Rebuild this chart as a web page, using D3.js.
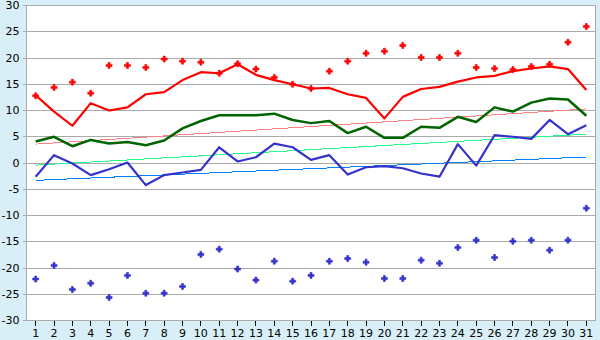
<!DOCTYPE html>
<html>
<head>
<meta charset="utf-8">
<script src="https://cdn.jsdelivr.net/npm/d3@7"></script>
<style>
  html, body { margin: 0; padding: 0; background: #d9eff7; }
  svg { display: block; font-family: "DejaVu Sans", sans-serif; }
</style>
</head>
<body>
<script>
// Data
const days = d3.range(1, 32);
const tMax = [12.8, 9.7, 7.0, 11.3, 9.9, 10.5, 13.0, 13.4, 15.7, 17.2, 17.0, 18.7, 16.7, 15.7, 14.9, 14.1,
              14.2, 13.0, 12.3, 8.4, 12.5, 14.0, 14.4, 15.4, 16.2, 16.5, 17.4, 17.9, 18.3, 17.8, 13.8];
const tMean = [4.0, 4.9, 3.1, 4.3, 3.6, 3.9, 3.3, 4.2, 6.5, 7.9, 9.0, 9.0, 9.0, 9.3, 8.1, 7.5,
               7.9, 5.6, 6.8, 4.7, 4.7, 6.8, 6.6, 8.7, 7.7, 10.5, 9.7, 11.4, 12.2, 12.0, 8.9];
const tMin = [-2.7, 1.4, -0.2, -2.4, -1.3, 0.0, -4.3, -2.4, -1.9, -1.4, 2.9, 0.2, 1.0, 3.6, 2.9, 0.5,
              1.4, -2.3, -0.9, -0.7, -1.1, -2.1, -2.7, 3.5, -0.6, 5.2, 4.9, 4.5, 8.1, 5.4, 7.1];
const recMax = [12.7, 14.3, 15.3, 13.2, 18.5, 18.5, 18.1, 19.7, 19.3, 19.1, 17.0, 18.8, 17.8, 16.2, 14.9, 14.1,
                17.4, 19.3, 20.8, 21.2, 22.3, 20.0, 20.0, 20.8, 18.1, 17.9, 17.7, 18.3, 18.7, 22.9, 25.9];
const recMin = [-22.2, -19.6, -24.2, -23.0, -25.7, -21.5, -24.9, -24.9, -23.6, -17.5, -16.5, -20.3, -22.4, -18.8, -22.6, -21.5,
                -18.8, -18.3, -19.0, -22.1, -22.1, -18.6, -19.2, -16.2, -14.8, -18.1, -15.0, -14.8, -16.7, -14.8, -8.7];
// normal lines: value on day 1 and day 31
const normMax = [3.5, 10.2];
const normMean = [-0.5, 5.4];
const normMin = [-3.4, 1.05];
const yTicks = d3.range(-30, 31, 5);

const w = 600, h = 340;
const padLeft = 26.5, padRight = 595.5, padTop = 5, padBottom = 320;

const svg = d3.select("body").append("svg")
  .attr("width", w)
  .attr("height", h);

const x = d3.scaleBand().domain(days).range([padLeft, padRight]);
const xc = d => x(d) + x.bandwidth() / 2;
const y = d3.scaleLinear().domain([-30, 30]).range([padBottom, padTop]);

// plot background
svg.append("rect")
  .attr("x", padLeft).attr("y", padTop)
  .attr("width", padRight - padLeft).attr("height", padBottom - padTop)
  .attr("fill", "white");

// y axis with grid lines
const yAxis = d3.axisLeft(y).tickValues(yTicks)
  .tickFormat(d => String(d))
  .tickSize(-(padRight - padLeft) - 4)
  .tickPadding(3);
svg.append("g")
  .attr("transform", "translate(" + (padLeft - 4) + ",0)")
  .call(yAxis)
  .call(g => g.select(".domain").remove())
  .call(g => g.selectAll("line").attr("stroke", "#aaaaaa").attr("shape-rendering", "crispEdges")
    .attr("x1", 0).attr("x2", padRight - padLeft + 4))
  .call(g => g.selectAll("text").attr("font-size", 11).attr("fill", "black")
    .attr("font-family", "DejaVu Sans"));

// x axis
const xAxis = d3.axisBottom(x).tickSize(6).tickPadding(3).tickSizeOuter(0);
svg.append("g")
  .attr("transform", "translate(0," + padBottom + ")")
  .call(xAxis)
  .call(g => g.select(".domain").remove())
  .call(g => g.selectAll("line").attr("stroke", "black").attr("shape-rendering", "crispEdges"))
  .call(g => g.selectAll("text").attr("font-size", 11).attr("fill", "black")
    .attr("font-family", "DejaVu Sans"));

// plot border
svg.append("rect")
  .attr("x", padLeft).attr("y", padTop)
  .attr("width", padRight - padLeft).attr("height", padBottom - padTop)
  .attr("fill", "none")
  .attr("stroke", "#aaaaaa")
  .attr("shape-rendering", "crispEdges");

// normal lines
function normLine(vals, color) {
  svg.append("line")
    .attr("x1", xc(days[0])).attr("y1", y(vals[0]))
    .attr("x2", xc(days[days.length - 1])).attr("y2", y(vals[1]))
    .attr("stroke", color)
    .attr("stroke-width", 1)
    .attr("shape-rendering", "crispEdges");
}
normLine(normMax, "#ff8080");
normLine(normMean, "#22ff88");
normLine(normMin, "#0080ff");

// series lines
const line = d3.line().x((d, i) => xc(days[i])).y(d => y(d));
function drawLine(vals, color, width) {
  svg.append("path")
    .datum(vals)
    .attr("d", line)
    .attr("fill", "none")
    .attr("stroke", color)
    .attr("stroke-width", width)
    .attr("stroke-linejoin", "round");
}
drawLine(tMax, "#ff0000", 2.2);
drawLine(tMean, "#006400", 2.5);
drawLine(tMin, "#3333cc", 2.2);

// record markers
const cross = d3.symbol().type(d3.symbolCross).size(20);
function drawMarks(vals, color) {
  svg.append("g").selectAll("path")
    .data(vals)
    .enter()
    .append("path")
    .attr("d", cross)
    .attr("transform", (d, i) => "translate(" + xc(days[i]) + "," + y(d) + ")")
    .attr("fill", color)
    .attr("stroke", color)
    .attr("stroke-width", 0.6);
}
drawMarks(recMax, "#ff0000");
drawMarks(recMin, "#3333cc");
</script>
</body>
</html>
